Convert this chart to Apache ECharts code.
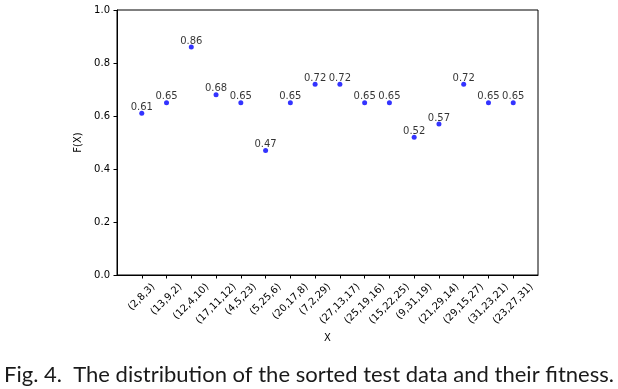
<!DOCTYPE html>
<html><head><meta charset="utf-8">
<script src="https://cdn.jsdelivr.net/npm/echarts@6/dist/echarts.min.js"></script>
<style>html,body{margin:0;padding:0;background:#fff}#c{width:618px;height:389px}</style>
</head><body><div id="c"></div>
<script>
const categories = ['(2,8,3)', '(13,9,2)', '(12,4,10)', '(17,11,12)', '(4,5,23)', '(5,25,6)', '(20,17,8)', '(7,2,29)', '(27,13,17)', '(25,19,16)', '(15,22,25)', '(9,31,19)', '(21,29,14)', '(29,15,27)', '(31,23,21)', '(23,27,31)'];
const fitness = [0.61, 0.65, 0.86, 0.68, 0.65, 0.47, 0.65, 0.72, 0.72, 0.65, 0.65, 0.52, 0.57, 0.72, 0.65, 0.65];
const yMin = 0, yMax = 1, yStep = 0.2;
const xName = 'X', yName = 'F(X)';
const caption = 'Fig. 4.  The distribution of the sorted test data and their fitness.';

const TICK_FONT = 10;
const ctx = document.createElement('canvas').getContext('2d');
function textW(t, font) { ctx.font = font; return ctx.measureText(t).width; }
const widths = categories.map(c => textW(c, TICK_FONT + 'px "DejaVu Sans"'));
const wMax = Math.max.apply(null, widths);
const rich = {};
categories.forEach((c, i) => {
  const p = (wMax - widths[i]) / 2;
  rich['p' + i] = { padding: [0, 0, p, p], fontSize: TICK_FONT, fontFamily: 'DejaVu Sans', color: '#000' };
});
const axisCats = [''].concat(categories, ['']);
const points = fitness.map((v, i) => [i + 1, v]);

const capFont = '21px Lato';
const capW = textW(caption, capFont);
const capScale = 610 / capW;

const chart = echarts.init(document.getElementById('c'), null, { renderer: 'canvas' });
chart.setOption({
  animation: false,
  backgroundColor: '#fff',
  grid: { left: 117, right: 80, top: 10, bottom: 114, show: true, borderColor: '#000', borderWidth: 1, backgroundColor: 'transparent' },
  xAxis: {
    type: 'category', data: axisCats, boundaryGap: false,
    name: xName, nameLocation: 'middle', nameGap: 57,
    nameTextStyle: { fontFamily: 'DejaVu Sans', fontSize: 10, color: '#000' },
    axisLine: { show: true, lineStyle: { color: '#000', width: 1 } },
    axisTick: { show: true, length: 3.5, interval: (i) => i > 0 && i < axisCats.length - 1, lineStyle: { color: '#000', width: 1 } },
    axisLabel: {
      interval: 0, rotate: 45, align: 'center', verticalAlign: 'middle', margin: 29, hideOverlap: false,
      formatter: (v, i) => (i > 0 && i < axisCats.length - 1) ? '{p' + (i - 1) + '|' + v + '}' : '',
      rich: rich
    },
    splitLine: { show: false }
  },
  yAxis: {
    type: 'value', min: yMin, max: yMax, interval: yStep,
    name: yName, nameLocation: 'middle', nameGap: 22, nameRotate: 90,
    nameTextStyle: { fontFamily: 'DejaVu Sans', fontSize: 10, color: '#000' },
    axisLine: { show: true, lineStyle: { color: '#000', width: 1 } },
    axisTick: { show: true, length: 3.5, lineStyle: { color: '#000', width: 1 } },
    axisLabel: { margin: 7, fontFamily: 'DejaVu Sans', fontSize: 10, color: '#000', formatter: v => v.toFixed(1) },
    splitLine: { show: false }
  },
  series: [{
    type: 'scatter', data: points, symbol: 'circle', symbolSize: 5,
    itemStyle: { color: '#0000ff' },
    label: {
      show: true, position: 'top', distance: -1.5,
      formatter: p => p.value[1].toFixed(2),
      fontFamily: 'DejaVu Sans', fontSize: 10, color: '#000'
    }
  }],
  graphic: [{
    type: 'text', x: 4, y: 375, scaleX: capScale, silent: true,
    style: { text: caption, font: capFont, fill: '#1a1a1a', verticalAlign: 'middle', align: 'left' }
  }]
});
</script>
</body></html>
